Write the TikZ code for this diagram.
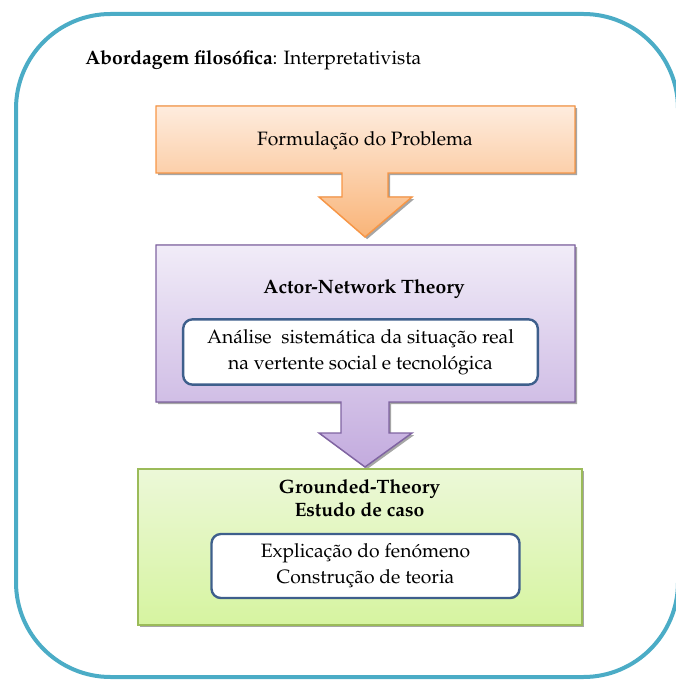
\documentclass[tikz,border=0pt]{standalone}
\usepackage[T1]{fontenc}
\usepackage{mathpazo}
\usetikzlibrary{shadows}

\definecolor{frameblue}{HTML}{4BACC6}
\definecolor{orangeline}{HTML}{F79646}
\definecolor{orangetop}{HTML}{FEECDE}
\definecolor{orangebot}{HTML}{F9B478}
\definecolor{purpleline}{HTML}{8064A2}
\definecolor{purpletop}{HTML}{F1ECF8}
\definecolor{purplebot}{HTML}{C3ABDE}
\definecolor{greenline}{HTML}{9BBB59}
\definecolor{greentop}{HTML}{ECF8D8}
\definecolor{greenbot}{HTML}{D6F4A0}
\definecolor{innerline}{HTML}{3E5F8C}

\tikzset{
  bodyfont/.style={font=\fontsize{14.5}{19.5}\selectfont},
  softshadow/.style={drop shadow={shadow xshift=1.6pt, shadow yshift=-1.6pt, opacity=0.35, fill=black}},
  stagebox/.style={line width=1.1pt, softshadow},
  innerbox/.style={draw=innerline, line width=1.8pt, fill=white, rounded corners=7pt,
    align=center, inner sep=0pt, bodyfont},
  label/.style={bodyfont, inner sep=0pt},
}

\begin{document}
\begin{tikzpicture}[x=0.75pt, y=-0.75pt]
  \useasboundingbox (0,0) rectangle (675,680);

  % outer frame (its right side runs just past the page edge)
  \draw[frameblue, line width=3pt, rounded corners=71pt] (16,14) rectangle (678,677);

  % heading
  \node[label, anchor=base west] (heading) at (85,65)
    {\textbf{Abordagem filos\'ofica}: Interpretativista};

  % stage 1: box merged with its downward arrow
  \filldraw[stagebox, draw=orangeline, top color=orangetop, bottom color=orangebot]
    (156,106) -- (575,106) -- (575,173) -- (388,173) -- (388,197) -- (412,197)
    -- (365,237) -- (319,197) -- (342,197) -- (342,173) -- (156,173) -- cycle;
  \node[label, anchor=base] (problem) at (365,146) {Formula\c{c}\~ao do Problema};

  % stage 2: box merged with its downward arrow
  \filldraw[stagebox, draw=purpleline, top color=purpletop, bottom color=purplebot]
    (156,245) -- (575,245) -- (575,402) -- (389,402) -- (389,433) -- (412,433)
    -- (365,467) -- (319,433) -- (341,433) -- (341,402) -- (156,402) -- cycle;
  \node[label, anchor=base] (ant) at (364,294) {\textbf{Actor-Network Theory}};
  \node[innerbox, minimum width=266pt, minimum height=49pt] (analysis) at (360.5,352)
    {An\'alise\ \ sistem\'atica da situa\c{c}\~ao real\\na vertente social e tecnol\'ogica};

  % stage 3
  \filldraw[stagebox, draw=greenline, top color=greentop, bottom color=greenbot]
    (138,469) rectangle (582,625);
  \node[label, anchor=base] (gt) at (359.5,493) {\textbf{Grounded-Theory}};
  \node[label, anchor=base] (case) at (359.5,516) {\textbf{Estudo de caso}};
  \node[innerbox, minimum width=231pt, minimum height=48pt] (explain) at (365.5,566)
    {Explica\c{c}\~ao do fen\'omeno\\Constru\c{c}\~ao de teoria};
\end{tikzpicture}
\end{document}
